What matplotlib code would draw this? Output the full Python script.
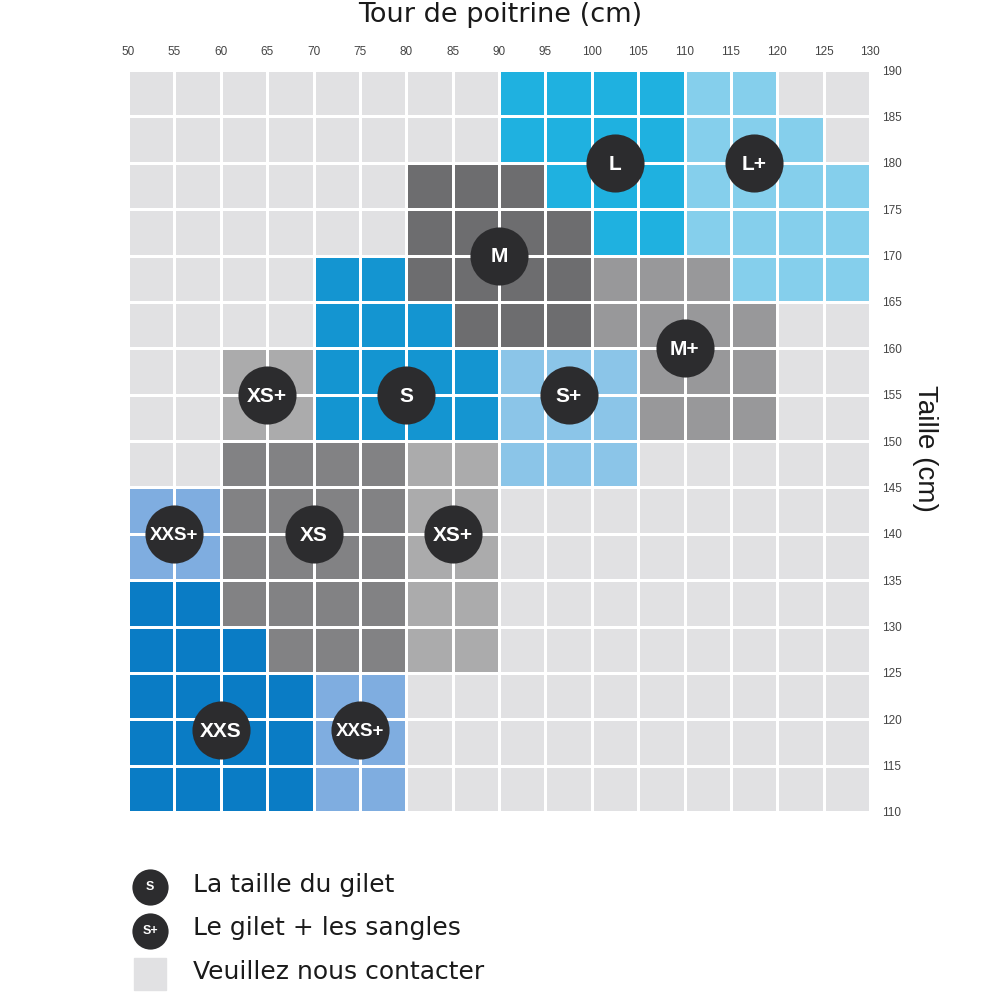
"""Size chart: chest circumference vs height, with vest size zones."""
import matplotlib.pyplot as plt
import numpy as np
from matplotlib.colors import ListedColormap
from matplotlib.patches import Rectangle

# cell edges (cm)
chest_edges = [50, 55, 60, 65, 70, 75, 80, 85, 90, 95, 100, 105, 110, 115, 120, 125, 130]
height_edges = [110, 115, 120, 125, 130, 135, 140, 145, 150, 155, 160, 165, 170, 175, 180, 185, 190]

# size zone of each cell, rows from the top (185-190) down to the bottom (110-115)
size_rows = [
    "-    -    -    -    -    -    -    -    L    L    L    L    L+   L+   -    -",
    "-    -    -    -    -    -    -    -    L    L    L    L    L+   L+   L+   -",
    "-    -    -    -    -    -    M    M    M    L    L    L    L+   L+   L+   L+",
    "-    -    -    -    -    -    M    M    M    M    L    L    L+   L+   L+   L+",
    "-    -    -    -    S    S    M    M    M    M    M+   M+   M+   L+   L+   L+",
    "-    -    -    -    S    S    S    M    M    M    M+   M+   M+   M+   -    -",
    "-    -    XS+  XS+  S    S    S    S    S+   S+   S+   M+   M+   M+   -    -",
    "-    -    XS+  XS+  S    S    S    S    S+   S+   S+   M+   M+   M+   -    -",
    "-    -    XS   XS   XS   XS   XS+  XS+  S+   S+   S+   -    -    -    -    -",
    "XXS+ XXS+ XS   XS   XS   XS   XS+  XS+  -    -    -    -    -    -    -    -",
    "XXS+ XXS+ XS   XS   XS   XS   XS+  XS+  -    -    -    -    -    -    -    -",
    "XXS  XXS  XS   XS   XS   XS   XS+  XS+  -    -    -    -    -    -    -    -",
    "XXS  XXS  XXS  XS   XS   XS   XS+  XS+  -    -    -    -    -    -    -    -",
    "XXS  XXS  XXS  XXS  XXS+ XXS+ -    -    -    -    -    -    -    -    -    -",
    "XXS  XXS  XXS  XXS  XXS+ XXS+ -    -    -    -    -    -    -    -    -    -",
    "XXS  XXS  XXS  XXS  XXS+ XXS+ -    -    -    -    -    -    -    -    -    -",
]

zone_colors = {
    "-": "#e1e1e3",
    "XXS": "#0a7cc5",
    "XXS+": "#7fade0",
    "XS": "#828284",
    "XS+": "#ababac",
    "S": "#1495d1",
    "S+": "#8bc5e8",
    "M": "#6d6d6f",
    "M+": "#98989a",
    "L": "#1fb1e0",
    "L+": "#85cfec",
}

# size badges
badge_labels = ["L", "L+", "M", "M+", "XS+", "S", "S+", "XXS+", "XS", "XS+", "XXS", "XXS+"]
badge_chest = [102.5, 117.5, 90, 110, 65, 80, 97.5, 55, 70, 85, 60, 75]
badge_height = [180, 180, 170, 160, 155, 155, 155, 140, 140, 140, 118.8, 118.8]

legend_badges = ["S", "S+", None]
legend_texts = ["La taille du gilet", "Le gilet + les sangles", "Veuillez nous contacter"]

BADGE = "#2c2c2e"
TEXT_FONT = ["DejaVu Sans"]
NUM_FONT = ["Liberation Sans", "DejaVu Sans"]


def main() -> None:
    zones = list(zone_colors)
    grid = np.array([[zones.index(c) for c in row.split()] for row in size_rows])[::-1]
    cmap = ListedColormap([zone_colors[z] for z in zones])

    fig = plt.figure(figsize=(10, 10), dpi=100)
    ax = fig.add_axes([0.128, 0.188, 0.742, 0.742])
    ax.pcolormesh(chest_edges, height_edges, grid, cmap=cmap, vmin=-0.5,
                  vmax=len(zones) - 0.5, edgecolors="white", linewidth=1.8)

    ax.scatter(badge_chest, badge_height, s=1750, color=BADGE, linewidths=0, zorder=3)
    for label, x, y in zip(badge_labels, badge_chest, badge_height):
        size = 13.5 if len(label) > 3 else 15
        ax.text(x, y - 0.15, label, ha="center", va="center", color="white",
                fontsize=size, fontweight="bold", family=NUM_FONT, zorder=4)

    ax.set_xlim(chest_edges[0], chest_edges[-1])
    ax.set_ylim(height_edges[0], height_edges[-1])
    ax.set_xticks(chest_edges)
    ax.set_yticks(height_edges)
    ax.xaxis.tick_top()
    ax.yaxis.tick_right()
    ax.tick_params(axis="x", length=0, pad=8.5, labelsize=8.5, labelcolor="#444444")
    ax.tick_params(axis="y", length=0, pad=9, labelsize=8.5, labelcolor="#444444")
    for lab in ax.get_xticklabels() + ax.get_yticklabels():
        lab.set_family(NUM_FONT)
    for spine in ax.spines.values():
        spine.set_visible(False)

    fig.text(0.5, 0.985, "Tour de poitrine (cm)", ha="center", va="center",
             fontsize=19.5, color="#1a1a1a", family=TEXT_FONT)
    fig.text(0.925, 0.552, "Taille (cm)", ha="center", va="center", rotation=-90,
             fontsize=20, color="#1a1a1a", family=NUM_FONT)

    # legend, drawn in figure pixel space
    leg = fig.add_axes([0, 0, 1, 1], zorder=-1)
    leg.set_xlim(0, 1000)
    leg.set_ylim(1000, 0)
    leg.axis("off")
    for i, (badge, text) in enumerate(zip(legend_badges, legend_texts)):
        y = 885 + 43.5 * i
        if badge:
            leg.scatter([150], [y + 2], s=680, color=BADGE, linewidths=0)
            leg.text(150, y + 2, badge, ha="center", va="center", color="white",
                     fontsize=9, fontweight="bold", family=NUM_FONT)
        else:
            leg.add_patch(Rectangle((134, y - 14), 32, 32, color=zone_colors["-"]))
        leg.text(193, y, text, ha="left", va="center", fontsize=18,
                 color="#1a1a1a", family=TEXT_FONT)

    fig.savefig("out.png", dpi=100)
    plt.close(fig)


if __name__ == "__main__":
    main()
